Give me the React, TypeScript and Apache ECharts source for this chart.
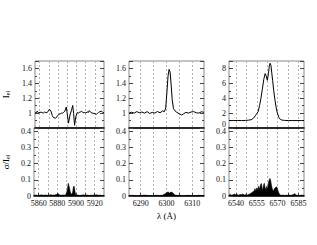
import React, { useEffect, useRef } from "react";
import * as echarts from "echarts";

// ---- Panel 1 (Na D region) ----
const P1_WL = [5855, 5856, 5857.4, 5859, 5860.5, 5862.4, 5864, 5865.7, 5867, 5868.4, 5869.5, 5870.7, 5872.4, 5873.7, 5875, 5877.4, 5879.7, 5881, 5882.4, 5884, 5885, 5886.3, 5887.4, 5889, 5890, 5891.4, 5893, 5894.7, 5896, 5897, 5898, 5899.4, 5901, 5902, 5903, 5904.5, 5905.7, 5907.3, 5909, 5910.3, 5911.7, 5913, 5914, 5915.7, 5917.3, 5919, 5920.5, 5921.7, 5923, 5924, 5925.7, 5927.4, 5929, 5930];
const P1_FLUX = [1.01, 1.0, 1.026, 1.0, 1.012, 1.009, 1.0, 1.017, 1.005, 1.009, 1.03, 1.052, 1.026, 0.97, 0.94, 0.931, 0.966, 0.985, 0.991, 1.0, 1.0, 1.012, 1.026, 1.082, 0.996, 0.866, 0.974, 1.039, 1.103, 0.996, 0.836, 0.953, 1.009, 1.0, 1.009, 1.017, 1.026, 1.005, 1.009, 1.0, 1.017, 1.009, 1.034, 1.009, 1.0, 0.996, 0.99, 0.983, 1.0, 1.009, 1.02, 1.026, 1.005, 1.009];
const P1_SIG_WL = [5855, 5857, 5859, 5861, 5863, 5865, 5867, 5869, 5871, 5873, 5875, 5877, 5879, 5880.7, 5882, 5884, 5886, 5888, 5889, 5890, 5891, 5891.7, 5892.3, 5893, 5893.7, 5894.5, 5895.5, 5896.5, 5897.3, 5898, 5898.7, 5899.5, 5900.5, 5902, 5904, 5906, 5908, 5910, 5912, 5914, 5916, 5918, 5920, 5922, 5924, 5926, 5928, 5930];
const P1_SIG = [0.004, 0.006, 0.003, 0.005, 0.007, 0.004, 0.006, 0.004, 0.005, 0.008, 0.005, 0.006, 0.009, 0.015, 0.008, 0.004, 0.006, 0.005, 0.008, 0.02, 0.05, 0.078, 0.065, 0.05, 0.03, 0.015, 0.01, 0.025, 0.058, 0.06, 0.035, 0.01, 0.004, 0.006, 0.003, 0.005, 0.007, 0.004, 0.006, 0.003, 0.005, 0.004, 0.006, 0.007, 0.004, 0.005, 0.003, 0.005];

// ---- Panel 2 ([O I] 6300) ----
const P2_WL = [6285.5, 6286.5, 6287.5, 6288.5, 6289.5, 6290.5, 6291.5, 6292.5, 6293.5, 6294.5, 6295.5, 6296.5, 6297.5, 6298.5, 6299.2, 6299.7, 6300.2, 6300.6, 6301, 6301.4, 6301.8, 6302.2, 6302.7, 6303.3, 6304, 6305, 6305.8, 6306.6, 6307.5, 6308.5, 6309.5, 6310.5, 6311.5, 6312.5, 6313.5, 6314.5];
const P2_FLUX = [1.0, 1.012, 1.0, 1.02, 1.005, 1.015, 1.0, 1.02, 0.995, 1.01, 1.0, 1.022, 1.005, 1.03, 1.02, 1.07, 1.3, 1.5, 1.587, 1.55, 1.38, 1.18, 1.06, 1.03, 1.01, 0.99, 0.975, 0.99, 1.01, 1.0, 1.015, 1.02, 1.005, 1.0, 1.018, 1.01];
const P2_SIG_WL = [6285.5, 6287, 6288.5, 6290, 6291.5, 6293, 6294.5, 6296, 6297.5, 6298.5, 6299.3, 6300, 6300.6, 6301.2, 6301.8, 6302.4, 6303, 6303.6, 6305, 6306.5, 6308, 6309.5, 6311, 6312.5, 6314.5];
const P2_SIG = [0.003, 0.004, 0.002, 0.003, 0.005, 0.003, 0.002, 0.004, 0.003, 0.005, 0.012, 0.02, 0.025, 0.018, 0.024, 0.02, 0.01, 0.004, 0.003, 0.002, 0.004, 0.003, 0.002, 0.004, 0.003];

// ---- Panel 3 (H alpha) ----
const P3_WL = [6535, 6538, 6541, 6544, 6547, 6549, 6551, 6552.5, 6554, 6555, 6556, 6557, 6558, 6559, 6560, 6561, 6561.8, 6562.6, 6563.4, 6564, 6564.6, 6565.2, 6565.8, 6566.4, 6567.2, 6568.1, 6569, 6569.8, 6571, 6572, 6573, 6575, 6578, 6581, 6584, 6587, 6589];
const P3_FLUX = [1.0, 1.0, 1.01, 1.0, 1.02, 1.05, 1.12, 1.3, 1.65, 1.95, 2.2, 3.0, 4.0, 5.2, 6.5, 7.3, 7.0, 6.4, 7.3, 8.3, 8.7, 8.4, 7.4, 6.4, 5.0, 3.75, 2.7, 2.0, 1.4, 1.15, 1.07, 1.02, 1.0, 1.0, 1.0, 1.0, 1.0];
const P3_SIG_WL = [6535, 6536, 6537, 6538, 6539, 6540, 6541, 6542, 6543, 6544, 6545, 6546, 6547, 6548, 6549, 6550, 6551, 6552, 6553, 6553.7, 6554.3, 6555, 6555.7, 6556.3, 6557, 6557.7, 6558.3, 6558.8, 6559.3, 6559.8, 6560.4, 6561, 6561.6, 6562.2, 6562.8, 6563.4, 6564, 6564.5, 6565, 6565.5, 6566, 6566.5, 6567, 6567.6, 6568.2, 6568.8, 6569.4, 6570, 6570.6, 6571.2, 6572, 6573, 6574, 6575, 6576, 6577, 6578, 6579, 6580, 6581, 6582, 6582.5, 6583, 6584, 6585, 6586, 6587, 6588, 6589];
const P3_SIG = [0.006, 0.01, 0.005, 0.008, 0.012, 0.006, 0.009, 0.005, 0.01, 0.007, 0.012, 0.006, 0.008, 0.005, 0.01, 0.012, 0.018, 0.025, 0.03, 0.045, 0.03, 0.05, 0.035, 0.06, 0.04, 0.07, 0.077, 0.05, 0.035, 0.065, 0.078, 0.05, 0.04, 0.06, 0.045, 0.08, 0.1, 0.108, 0.095, 0.07, 0.05, 0.035, 0.03, 0.045, 0.05, 0.055, 0.056, 0.04, 0.025, 0.012, 0.006, 0.004, 0.006, 0.003, 0.005, 0.004, 0.006, 0.004, 0.005, 0.008, 0.012, 0.015, 0.006, 0.004, 0.005, 0.003, 0.006, 0.004, 0.005];

// ---- Axis ranges & ticks ----
const X_RANGES = [[5855, 5930], [6285.5, 6314.5], [6535, 6589]];
const X_GRID_TICKS = [
  [5860, 5870, 5880, 5890, 5900, 5910, 5920],
  [6290, 6295, 6300, 6305, 6310],
  [6540, 6547.5, 6555, 6562.5, 6570, 6577.5, 6585],
];
const X_LABELS = [
  [5860, 5880, 5900, 5920],
  [6290, 6300, 6310],
  [6540, 6555, 6570, 6585],
];
const TOP_Y = [[0.8, 1.7, 0.2], [0.8, 1.7, 0.2], [0, 9, 2]];
const BOT_Y = [0, 0.42, 0.1];

const FONT = "Liberation Serif";
const LEFTS = [29, 129, 229];
const W = 75;
const TOP = 61;
const MID = 128;
const BOT = 196;

export default function App() {
  const ref = useRef<HTMLDivElement>(null);
  useEffect(() => {
    if (!ref.current) return;
    const chart = echarts.init(ref.current, null, { renderer: "svg" });
    const grids: any[] = [];
    const xAxes: any[] = [];
    const yAxes: any[] = [];
    const series: any[] = [];
    const fluxes = [
      [P1_WL, P1_FLUX],
      [P2_WL, P2_FLUX],
      [P3_WL, P3_FLUX],
    ];
    const sigs = [
      [P1_SIG_WL, P1_SIG],
      [P2_SIG_WL, P2_SIG],
      [P3_SIG_WL, P3_SIG],
    ];
    const tickStyle = { show: true, inside: true, length: 4, lineStyle: { color: "#444", width: 1 } };
    const minorStyle = { show: true, splitNumber: 2, length: 2, lineStyle: { color: "#444", width: 1 } };
    const labelStyle = { fontFamily: FONT, fontSize: 8, color: "#111" };
    for (let c = 0; c < 3; c++) {
      for (let r = 0; r < 2; r++) {
        const gi = grids.length;
        grids.push({
          left: LEFTS[c],
          top: r === 0 ? TOP : MID,
          width: W,
          height: r === 0 ? MID - TOP : BOT - MID,
          show: true,
          borderColor: "#888",
          borderWidth: 1,
          backgroundColor: "transparent",
        });
        const isBottom = r === 1;
        xAxes.push({
          type: "value",
          gridIndex: gi,
          min: X_RANGES[c][0],
          max: X_RANGES[c][1],
          position: "bottom",
          axisLine: { show: true, lineStyle: { color: "#000", width: 1.5 } },
          axisTick: {
            show: isBottom,
            inside: true,
            length: 3,
            customValues: X_GRID_TICKS[c],
            lineStyle: { color: "#444" },
          },
          axisLabel: {
            show: isBottom,
            customValues: X_LABELS[c],
            margin: 3,
            formatter: (v: number) => String(v),
            ...labelStyle,
          },
          splitLine: { show: true, lineStyle: { color: "#b4b4b4", type: [2, 2], width: 1 } },
          name: isBottom && c === 1 ? "λ (Å)" : "",
          nameLocation: "middle",
          nameGap: 15,
          nameTextStyle: { fontFamily: FONT, fontSize: 9, color: "#000" },
        });
        const yr = isBottom ? BOT_Y : TOP_Y[c];
        const base = {
          type: "value",
          gridIndex: gi,
          min: yr[0],
          max: yr[1],
          interval: yr[2],
          axisLine: { show: false },
          axisTick: tickStyle,
          minorTick: minorStyle,
          splitLine: { show: false },
        };
        yAxes.push({
          ...base,
          position: "left",
          axisLabel: {
            show: true,
            margin: 3,
            showMinLabel: isBottom || c === 2,
            showMaxLabel: false,
            formatter: (v: number) => (!isBottom && c === 2 && v === 0 ? "{up|0}" : String(Math.round(v * 100) / 100)),
            rich: { up: { fontFamily: FONT, fontSize: 8, color: "#111", padding: [0, 0, 8, 0] } },
            ...labelStyle,
          },
          name:
            c === 0
              ? isBottom
                ? "{a|σ/I}{b|el}"
                : "{a|I}{b|el}"
              : "",
          nameLocation: "middle",
          nameGap: isBottom ? 23 : 24,
          nameTextStyle: {
            rich: {
              a: { fontFamily: FONT, fontSize: 9, color: "#000" },
              b: { fontFamily: FONT, fontSize: 6, color: "#000", padding: [5, 0, 0, 0] },
            },
          },
        });
        const yRightIdx = yAxes.length;
        yAxes.push({
          ...base,
          position: "right",
          axisLabel: { show: false },
        });
        const data = isBottom ? sigs[c] : fluxes[c];
        const pts = (data[0] as number[]).map((w, i) => [w, (data[1] as number[])[i]]);
        series.push({
          type: "line",
          xAxisIndex: gi,
          yAxisIndex: yRightIdx - 1,
          data: pts,
          symbol: "none",
          smooth: false,
          lineStyle: { color: "#000", width: isBottom ? 0.6 : 1 },
          areaStyle: isBottom ? { color: "#000", opacity: 1 } : undefined,
          clip: true,
          z: 3,
        });
      }
    }
    chart.setOption({
      animation: false,
      backgroundColor: "#fff",
      grid: grids,
      xAxis: xAxes,
      yAxis: yAxes,
      series,
    });
    return () => chart.dispose();
  }, []);
  return (
    <div
      ref={ref}
      style={{ position: "absolute", left: 0, top: 0, width: 317, height: 245 }}
    />
  );
}
